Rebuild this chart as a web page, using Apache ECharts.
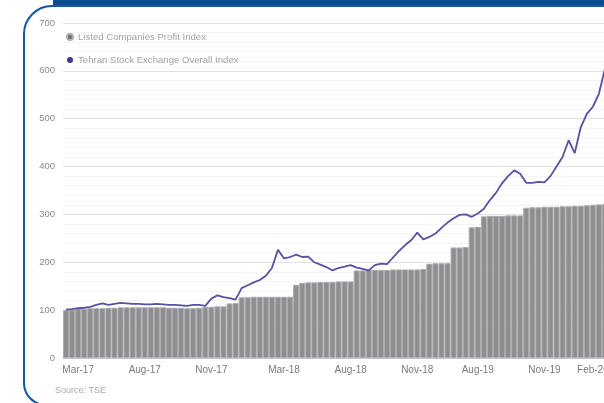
<!DOCTYPE html>
<html>
<head>
<meta charset="utf-8">
<script src="https://cdn.jsdelivr.net/npm/echarts@6/dist/echarts.min.js"></script>
<style>
  html, body { margin: 0; padding: 0; background: #ffffff; }
  #chart { width: 604px; height: 403px; }
</style>
</head>
<body>
<div id="chart"></div>
<script>
// Weekly observations, March 2017 – February 2020 (index, base = 100)
const profitIndex = [
  100, 101, 103, 103, 104, 104, 104, 105, 105, 106,
  106, 106, 106, 106, 106, 106, 106, 105, 105, 105,
  104, 104, 105, 107, 107, 108, 108, 114, 115, 127,
  127, 128, 128, 128, 128, 128, 128, 128, 153, 157,
  158, 158, 159, 159, 159, 160, 160, 160, 183, 183,
  184, 184, 184, 184, 185, 185, 185, 185, 185, 186,
  197, 198, 198, 198, 231, 231, 232, 273, 274, 296,
  297, 297, 297, 298, 298, 298, 314, 315, 315, 316,
  316, 316, 317, 317, 318, 318, 319, 320, 321, 322
];

const tseIndex = [
  101, 102, 104, 105, 107, 111, 114, 111, 113, 115,
  114, 113, 113, 112, 112, 113, 112, 111, 111, 110,
  109, 111, 111, 109, 124, 131, 127, 125, 122, 146,
  152, 158, 163, 172, 188, 226, 208, 211, 216, 211,
  212, 200, 195, 190, 183, 188, 191, 194, 189, 186,
  183, 194, 197, 196, 210, 224, 236, 246, 262, 248,
  253, 260, 272, 283, 292, 299, 300, 295, 302, 312,
  330, 345, 365, 380, 392, 385, 366, 366, 368, 367,
  380, 400, 420, 455, 428, 482, 510, 525, 552, 605
];

// Axis labels and the week each one sits on
const tickLabels = ['Mar-17', 'Aug-17', 'Nov-17', 'Mar-18', 'Aug-18', 'Nov-18', 'Aug-19', 'Nov-19', 'Feb-20'];
const tickAt = [2, 13, 24, 36, 47, 58, 68, 79, 87];

const yTicks = [0, 100, 200, 300, 400, 500, 600, 700];

const weeks = profitIndex.map((_, i) => 'W' + (i + 1));

const font = "'Liberation Sans', Arial, sans-serif";

const chart = echarts.init(document.getElementById('chart'), null, { renderer: 'canvas' });

chart.setOption({
  backgroundColor: '#ffffff',
  animation: false,
  grid: { left: 63, right: -4, top: 23, bottom: 45, containLabel: false, outerBoundsMode: 'none' },
  legend: {
    orient: 'vertical',
    left: 61,
    top: 27,
    itemWidth: 6,
    itemHeight: 6,
    itemGap: 13,
    icon: 'circle',
    textStyle: { color: '#a3a3a3', fontSize: 9.6, lineHeight: 10, fontFamily: font },
    data: [
      { name: 'Listed Companies Profit Index', itemStyle: { color: '#6e6e70' } },
      { name: 'Tehran Stock Exchange Overall Index', itemStyle: { color: '#3d3a8c' } }
    ]
  },
  xAxis: {
    type: 'category',
    data: weeks,
    boundaryGap: true,
    axisLine: { show: true, lineStyle: { color: '#c8c8c8' } },
    axisTick: { show: false },
    axisLabel: {
      interval: (idx) => tickAt.includes(idx),
      formatter: (val, idx) => {
        const k = tickAt.indexOf(idx);
        return k >= 0 ? tickLabels[k] : '';
      },
      color: '#7a7a7a',
      fontSize: 10,
      fontFamily: font,
      margin: 7
    },
    splitLine: { show: false }
  },
  yAxis: {
    type: 'value',
    min: yTicks[0],
    max: yTicks[yTicks.length - 1],
    interval: 100,
    axisLine: { show: false },
    axisTick: { show: false },
    axisLabel: { color: '#8a8a8a', fontSize: 9.5, fontFamily: font, margin: 8 },
    splitLine: { show: true, lineStyle: { color: '#e2e2e2', width: 1 } },
    minorTick: { show: false, splitNumber: 5 },
    minorSplitLine: { show: true, lineStyle: { color: '#f4f4f4', width: 1 } }
  },
  series: [
    {
      name: 'Listed Companies Profit Index',
      type: 'bar',
      data: profitIndex,
      barCategoryGap: '0%',
      itemStyle: { color: '#8e8e90', borderColor: '#ababad', borderWidth: 1 },
      z: 2
    },
    {
      name: 'Tehran Stock Exchange Overall Index',
      type: 'line',
      data: tseIndex,
      symbol: 'none',
      smooth: false,
      lineStyle: { color: '#5552a2', width: 1.8 },
      itemStyle: { color: '#5552a2' },
      z: 3
    }
  ],
  graphic: [
    {
      type: 'rect',
      shape: { x: 53, y: 0, width: 560, height: 7 },
      style: { fill: '#0b4a94' },
      z: 10
    },
    {
      type: 'rect',
      shape: { x: 24, y: 6, width: 700, height: 399, r: [28, 0, 0, 22] },
      style: { fill: 'none', stroke: '#1656a0', lineWidth: 2 },
      z: 10
    },
    {
      type: 'text',
      left: 55,
      top: 386,
      style: { text: 'Source: TSE', fill: '#ababab', fontSize: 9, fontFamily: font },
      z: 10
    }
  ]
});
</script>
</body>
</html>
